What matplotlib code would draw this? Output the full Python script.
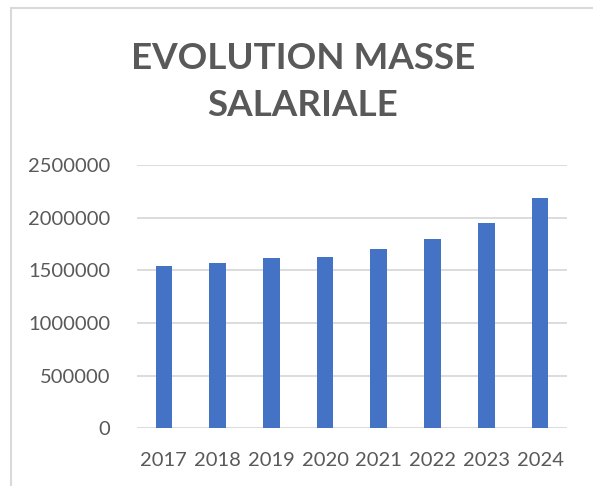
import matplotlib.pyplot as plt
from matplotlib.patches import Rectangle

years = ['2017', '2018', '2019', '2020', '2021', '2022', '2023', '2024']
masse = [1545000, 1576000, 1621000, 1624000, 1707000, 1799000, 1948000, 2190000]
yticks = [0, 500000, 1000000, 1500000, 2000000, 2500000]

grey = '#595959'

fig = plt.figure(figsize=(5.93, 4.86), dpi=100)
ax = fig.add_axes([0.231, 0.1193, 0.725, 0.5402])

ax.bar(years, masse, width=0.31, color='#4472C4', zorder=3)

ax.set_ylim(0, 2500000)
ax.set_xlim(-0.5, len(years) - 0.5)
ax.set_yticks(yticks)
ax.set_yticklabels([str(v) for v in yticks])
ax.yaxis.grid(True, color='#d9d9d9', linewidth=1.3, zorder=0)
ax.tick_params(axis='both', length=0, labelsize=14.5, labelcolor=grey)
ax.tick_params(axis='y', pad=19)
ax.tick_params(axis='x', pad=17)
for t in ax.get_xticklabels() + ax.get_yticklabels():
    t.set_family('Lato')
for s in ax.spines.values():
    s.set_visible(False)

fig.text(0.511, 0.880, 'EVOLUTION MASSE', ha='center', va='center',
         fontsize=26.5, fontweight='bold', color=grey, family='Lato')
fig.text(0.511, 0.782, 'SALARIALE', ha='center', va='center',
         fontsize=26.5, fontweight='bold', color=grey, family='Lato')

# cadre gris du graphique (coupe a droite et en bas)
fig.patches.append(Rectangle((11 / 593, -0.1), 1.2, 1 - 8 / 486 + 0.1,
                             transform=fig.transFigure, fill=False,
                             edgecolor='#d9d9d9', linewidth=1.5))

fig.savefig('out.png', dpi=100)
